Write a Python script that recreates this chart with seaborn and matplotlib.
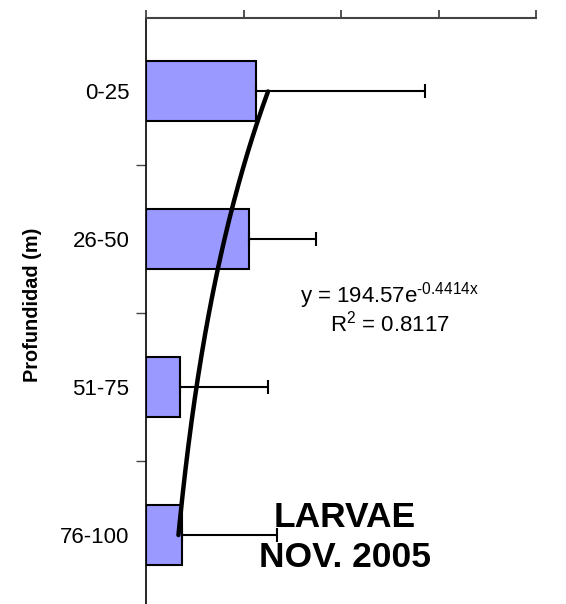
import numpy as np
import pandas as pd
import matplotlib
matplotlib.use("Agg")
import matplotlib.pyplot as plt
import seaborn as sns

# ---- data ----
depths = ["0-25", "26-50", "51-75", "76-100"]
larvae = [112.8, 105.6, 34.9, 36.9]
err_plus = [173.0, 69.0, 90.0, 97.0]
x_ticks = [0, 100, 200, 300, 400]
trend_a = 194.57
trend_b = -0.4414
r2 = 0.8117

sns.set_theme(style="white")
plt.rcParams['font.family'] = ['Liberation Sans', 'DejaVu Sans']
plt.rcParams['mathtext.fontset'] = 'custom'
plt.rcParams['mathtext.rm'] = 'Liberation Sans'
plt.rcParams['text.color'] = 'black'
plt.rcParams['axes.labelcolor'] = 'black'
plt.rcParams['ytick.color'] = 'black'
plt.rcParams['xtick.color'] = 'black'

fig = plt.figure(figsize=(5.66, 6.04), dpi=100)
ax = fig.add_axes([146/566, 1 - 609/604, 390/566, (609 - 17.5)/604])

df = pd.DataFrame({"depth": depths, "val": larvae})
sns.barplot(data=df, x="val", y="depth", orient="h", color="#9999FF",
            saturation=1, width=0.405, edgecolor="black", linewidth=1.5,
            errorbar=None, ax=ax)
pos = np.arange(len(depths))
ax.errorbar(larvae, pos, xerr=[np.zeros(len(larvae)), err_plus], fmt="none",
            ecolor="black", elinewidth=1.5, capsize=5, capthick=1.5, zorder=3)

# exponential trendline (category index 1..4)
t = np.linspace(1, len(depths), 200)
ax.plot(trend_a * np.exp(trend_b * t), t - 1, color="black", lw=3.2,
        solid_capstyle="round", zorder=4)

ax.set_xlim(x_ticks[0], x_ticks[-1])
ax.set_ylim(len(depths) - 0.5, -0.5)
ax.xaxis.tick_top()
ax.set_xticks(x_ticks)
ax.set_xticklabels([])
ax.tick_params(axis="x", which="major", direction="out", length=6, width=1.2,
               color="#333333", top=True, bottom=False)
ax.set_xlabel("")

ax.set_yticks(pos)
ax.set_yticklabels(depths, fontsize=16)
ax.tick_params(axis="y", which="major", length=0, pad=12)
ax.set_yticks(np.arange(0.5, len(depths) - 0.5, 1.0), minor=True)
ax.tick_params(axis="y", which="minor", direction="out", length=7, width=1.0,
               color="#444444", left=True)

ax.set_ylabel("Profundidad (m)", fontsize=14.3, fontweight="bold")
ax.yaxis.set_label_coords(-0.267, 0.514)

for s in ["right", "bottom"]:
    ax.spines[s].set_visible(False)
ax.spines["top"].set_color("#444444")
ax.spines["top"].set_linewidth(1.5)
ax.spines["left"].set_color("black")
ax.spines["left"].set_linewidth(1.2)

ax.text(250, 1.378, "y = 194.57e$^{\\mathregular{\u2010" + "0.4414x}}$", fontsize=16,
        ha="center", va="center")
ax.text(250, 1.568, r"R$^{\mathregular{2}}$ = 0.8117", fontsize=16,
        ha="center", va="center")
ax.text(204, 2.878, "LARVAE", fontsize=25.5, fontweight="bold",
        ha="center", va="center")
ax.text(204, 3.155, "NOV. 2005", fontsize=25.5, fontweight="bold",
        ha="center", va="center")

fig.savefig("out.png", dpi=100)
